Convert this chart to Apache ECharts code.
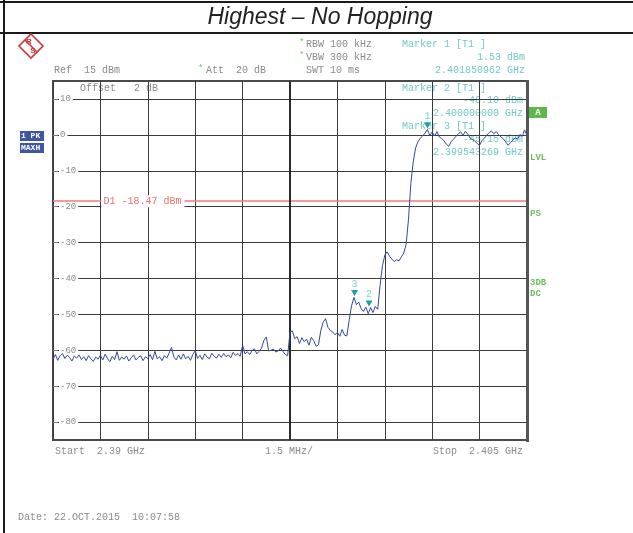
<!DOCTYPE html>
<html><head><meta charset="utf-8">
<script src="https://cdn.jsdelivr.net/npm/echarts@6/dist/echarts.min.js"></script>
<style>html,body{margin:0;padding:0;background:#fff}#c{width:633px;height:533px}</style>
</head><body><div id="c"></div>
<script>
// ---- data ----
const startGHz = 2.39;
const stopGHz = 2.405;
const spanMHz = 15;
const divMHz = 1.5;
const sweepStepMHz = 0.075;
const yTicks = [10, 0, -10, -20, -30, -40, -50, -60, -70, -80];
const refLevel = 15;
const bottomLevel = -85;
const displayLine = -18.47;
const traceDbm = [
  -62.5,-61.2,-62.8,-61.5,-60.9,-62.3,-61.4,-62.0,-63.0,-61.6,
  -62.2,-61.3,-62.6,-61.8,-62.9,-61.5,-62.4,-63.1,-61.9,-62.5,
  -61.4,-62.7,-61.1,-62.3,-63.2,-61.7,-62.6,-60.4,-62.8,-61.9,
  -62.5,-61.6,-63.0,-62.1,-61.3,-62.7,-62.0,-61.5,-62.9,-61.8,
  -62.3,-61.2,-62.6,-60.3,-62.4,-61.8,-62.9,-61.5,-62.2,-60.8,
  -59.2,-61.9,-62.7,-61.3,-62.5,-61.0,-62.4,-61.7,-62.8,-61.2,
  -60.1,-62.3,-61.4,-62.6,-61.0,-61.9,-62.4,-60.8,-61.7,-62.2,
  -61.1,-62.0,-60.9,-61.8,-61.3,-62.1,-60.6,-61.5,-60.9,-61.7,
  -58.6,-61.0,-60.4,-61.2,-60.1,-59.6,-61.0,-60.3,-59.4,-57.2,
  -56.3,-60.2,-60.0,-59.7,-60.5,-60.2,-59.4,-60.3,-61.2,-61.5,
  -55.0,-54.6,-56.8,-56.2,-58.1,-56.5,-57.6,-56.9,-58.6,-56.4,
  -57.3,-58.9,-58.5,-54.5,-52.2,-51.2,-53.6,-54.5,-54.9,-55.7,
  -55.0,-56.1,-54.2,-55.8,-56.0,-51.5,-47.5,-45.3,-47.3,-46.6,
  -48.4,-49.2,-48.0,-49.8,-48.1,-49.5,-47.8,-48.6,-42.0,-36.5,
  -33.5,-32.6,-33.8,-34.6,-35.3,-34.8,-35.1,-34.0,-32.9,-30.5,
  -23.5,-13.5,-7.5,-3.6,-1.9,-0.9,-0.3,0.5,1.5,-0.2,
  0.8,-0.3,0.9,-0.6,-1.0,-1.7,-2.6,-3.2,-1.9,-1.2,
  -0.4,0.2,0.9,-0.2,1.0,0.2,-0.9,-1.3,-1.8,-2.4,
  -2.9,-1.6,-0.9,-0.1,0.6,1.1,0.3,0.9,0.1,-0.6,
  -1.1,-2.0,-2.9,-2.2,-1.5,-0.8,-1.2,0.1,-0.4,1.4,-0.3
];
const markerNames = ['1', '2', '3'];
const markerOffsetMHz = [11.850962, 10.0, 9.543269];
const markerLevels = [1.53, -48.10, -45.15];

// ---- styles ----
const MONO = 'Liberation Mono, DejaVu Sans Mono, monospace';
const GRAY = '#8a8a8a';
const TEAL = '#72c9c9';
const GREEN = '#6cbf5a';
const GRID = '#3c3c3c';

const traceData = traceDbm.map((v, i) => [i * sweepStepMHz, v]);
const fmtGHz = (off) => (startGHz + off / 1000).toFixed(9) + ' GHz';
const fmtDbm = (v) => v.toFixed(2) + ' dBm';

const chart = echarts.init(document.getElementById('c'), null, {renderer: 'canvas'});

function txt(text, x, y, opt) {
  opt = opt || {};
  return {
    type: 'text', x: x, y: y, z: opt.z == null ? 10 : opt.z, silent: true,
    style: {
      text: text, fill: opt.color || GRAY, font: (opt.weight || 'normal') + ' ' + (opt.size || 10) + 'px ' + (opt.family || MONO),
      textAlign: opt.align || 'left', textVerticalAlign: 'middle',
      backgroundColor: opt.bg, padding: opt.pad
    }
  };
}

const graphics = [
  // page frame
  {type: 'rect', shape: {x: 0, y: 1, width: 640, height: 2}, style: {fill: '#1a1a1a'}, silent: true},
  {type: 'rect', shape: {x: 0, y: 32, width: 640, height: 2}, style: {fill: '#1a1a1a'}, silent: true},
  {type: 'rect', shape: {x: 3, y: 0, width: 2, height: 533}, style: {fill: '#1a1a1a'}, silent: true},
  txt('Highest \u2013 No Hopping', 320, 18, {family: 'Liberation Sans, Arial, sans-serif', size: 23, color: '#222', align: 'center', weight: 'italic'}),
  // R&S logo
  {type: 'polygon', shape: {points: [[31, 34], [43, 46], [31, 58], [19, 46]]}, style: {fill: 'none', stroke: '#d0343a', lineWidth: 1.6}, silent: true},
  {type: 'line', shape: {x1: 25, y1: 40, x2: 37, y2: 52}, style: {stroke: '#d0343a', lineWidth: 1.6}, silent: true},
  txt('R', 29, 42, {family: 'Liberation Sans, sans-serif', size: 8, color: '#d0343a', align: 'center', weight: 'bold'}),
  txt('S', 33, 51, {family: 'Liberation Sans, sans-serif', size: 8, color: '#d0343a', align: 'center', weight: 'bold'}),
  // header
  txt('Ref  ' + refLevel + ' dBm', 54, 70),
  txt('*', 198, 69, {color: GREEN, size: 9}),
  txt('Att  20 dB', 206, 70),
  txt('*', 299, 43, {color: GREEN, size: 9}),
  txt('RBW 100 kHz', 306, 44),
  txt('*', 299, 56, {color: GREEN, size: 9}),
  txt('VBW 300 kHz', 306, 57),
  txt('SWT 10 ms', 306, 70),
  txt('Marker ' + markerNames[0] + ' [T1 ]', 402, 44, {color: TEAL}),
  txt(fmtDbm(markerLevels[0]), 525, 57, {color: TEAL, align: 'right'}),
  txt(fmtGHz(markerOffsetMHz[0]), 525, 70, {color: TEAL, align: 'right'}),
  // inside plot
  txt('Offset   2 dB', 80, 88, {z: 0}),
  txt('Marker ' + markerNames[1] + ' [T1 ]', 402, 88, {color: TEAL, z: 0}),
  txt(fmtDbm(markerLevels[1]), 523, 100, {color: TEAL, align: 'right', z: 0}),
  txt(fmtGHz(markerOffsetMHz[1]), 523, 113, {color: TEAL, align: 'right', z: 0}),
  txt('Marker ' + markerNames[2] + ' [T1 ]', 402, 126, {color: TEAL, z: 0}),
  txt(fmtDbm(markerLevels[2]), 523, 139, {color: TEAL, align: 'right', z: 0}),
  txt(fmtGHz(markerOffsetMHz[2]), 523, 152, {color: TEAL, align: 'right', z: 0}),
  // left side boxes
  {type: 'rect', shape: {x: 20, y: 131, width: 24, height: 10}, style: {fill: '#3d57a6'}, silent: true},
  txt('1 PK', 21, 136, {color: '#fff', size: 8, weight: 'bold'}),
  {type: 'rect', shape: {x: 20, y: 143, width: 24, height: 10}, style: {fill: '#3d57a6'}, silent: true},
  txt('MAXH', 21, 148, {color: '#fff', size: 8, weight: 'bold'}),
  // right side
  {type: 'rect', shape: {x: 529, y: 107, width: 18, height: 11}, style: {fill: '#5cb84a'}, silent: true},
  txt('A', 538, 112.5, {color: '#fff', size: 9, align: 'center', weight: 'bold'}),
  txt('LVL', 530, 158, {color: GREEN, size: 9, weight: 'bold'}),
  txt('PS', 530, 214, {color: GREEN, size: 9, weight: 'bold'}),
  txt('3DB', 530, 283, {color: GREEN, size: 9, weight: 'bold'}),
  txt('DC', 530, 294, {color: GREEN, size: 9, weight: 'bold'}),
  // right frame edge (thicker in reference)
  {type: 'rect', shape: {x: 526, y: 80, width: 3, height: 362}, style: {fill: '#555'}, silent: true, z: 12},
  // footer
  txt('Start  ' + startGHz + ' GHz', 55, 451),
  txt(divMHz + ' MHz/', 265, 451),
  txt('Stop  ' + stopGHz + ' GHz', 523, 451, {align: 'right'}),
  txt('Date: 22.OCT.2015  10:07:58', 18, 517)
];

chart.setOption({
  animation: false,
  backgroundColor: '#fff',
  grid: {left: 53, top: 81, width: 474, height: 359, show: true, borderColor: '#4a4a4a', borderWidth: 2, backgroundColor: 'transparent'},
  xAxis: {
    type: 'value', min: 0, max: spanMHz, interval: divMHz,
    axisLine: {show: false}, axisTick: {show: false}, axisLabel: {show: false},
    splitLine: {show: true, lineStyle: {color: GRID, width: 1}}
  },
  yAxis: {
    type: 'value', min: bottomLevel, max: refLevel,
    axisLine: {show: false},
    axisTick: {show: true, inside: true, length: 5, customValues: yTicks, lineStyle: {color: '#777'}},
    axisLabel: {show: true, inside: true, customValues: yTicks, margin: 6, color: GRAY, fontFamily: MONO, fontSize: 9,
      backgroundColor: '#fff', padding: [0, 2, 0, 1]},
    splitLine: {show: true, lineStyle: {color: GRID, width: 1}},
    z: 3
  },
  series: [{
    type: 'line', data: traceData, showSymbol: false, symbol: 'none', z: 5,
    lineStyle: {color: '#35499e', width: 1},
    markLine: {
      silent: true, symbol: 'none', animation: false,
      label: {show: false},
      data: [
        {yAxis: displayLine, lineStyle: {color: '#f07a7a', width: 1.5, type: 'solid'}},
        {xAxis: spanMHz / 2, lineStyle: {color: '#2a2a2a', width: 2, type: 'solid'}}
      ]
    },
    markPoint: {
      silent: true, symbol: 'triangle', symbolRotate: 180, symbolSize: [7, 6], symbolOffset: [0, -4],
      itemStyle: {color: '#1f9e9e'},
      label: {show: true, position: 'top', distance: 1, color: '#7fd0d0', fontFamily: MONO, fontSize: 10, formatter: (p) => p.name},
      data: markerNames.map((n, i) => ({name: n, coord: [markerOffsetMHz[i], markerLevels[i]]}))
    }
  }],
  graphic: {elements: graphics}
});

// D1 display-line label positioned through the axis scale
const d1y = chart.convertToPixel({yAxisIndex: 0}, displayLine);
const d1x = chart.convertToPixel({xAxisIndex: 0}, 1.5);
graphics.push(txt('D1 ' + displayLine + ' dBm', d1x + 1, d1y, {color: '#ee7070', bg: '#fff', pad: [1, 3, 1, 2], z: 30}));
chart.setOption({graphic: {elements: graphics}});
</script>
</body></html>
